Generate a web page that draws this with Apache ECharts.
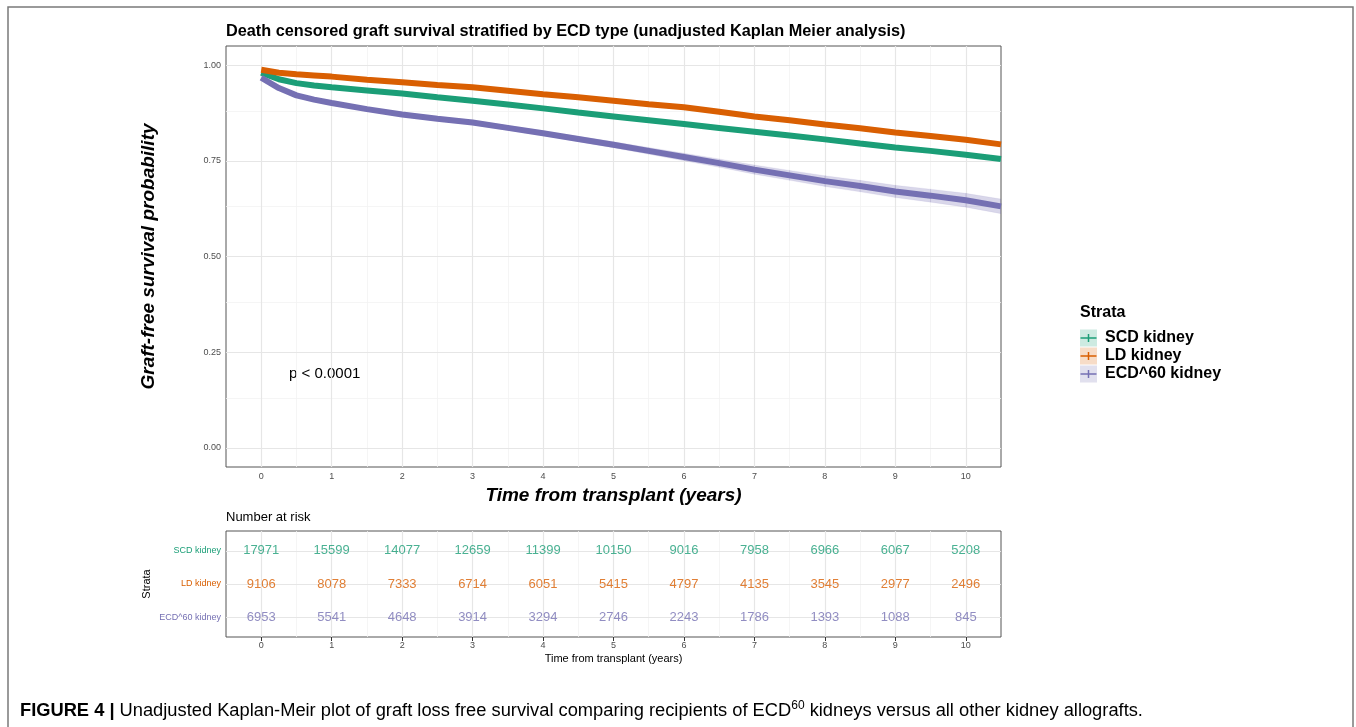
<!DOCTYPE html>
<html>
<head>
<meta charset="utf-8">
<script src="https://cdn.jsdelivr.net/npm/echarts@6/dist/echarts.min.js"></script>
<style>
html,body{margin:0;padding:0;background:#fff;}
#chart{width:1356px;height:727px;}
</style>
</head>
<body>
<div id="chart"></div>
<script>
// ---- data ----
const times = [0, 0.02, 0.25, 0.5, 0.75, 1, 1.5, 2, 2.5, 3, 3.5, 4, 4.5, 5, 5.5, 6, 6.5, 7, 7.5, 8, 8.5, 9, 9.5, 10, 10.5];
const scdSurv = [0.980, 0.975, 0.963, 0.953, 0.947, 0.942, 0.934, 0.926, 0.916, 0.907, 0.897, 0.887, 0.876, 0.866, 0.856, 0.846, 0.836, 0.826, 0.816, 0.806, 0.795, 0.785, 0.776, 0.766, 0.755];
const ldSurv  = [0.988, 0.985, 0.980, 0.976, 0.973, 0.970, 0.962, 0.955, 0.948, 0.942, 0.933, 0.924, 0.916, 0.907, 0.898, 0.890, 0.878, 0.866, 0.856, 0.845, 0.835, 0.824, 0.815, 0.805, 0.793];
const ecdSurv = [0.967, 0.962, 0.940, 0.921, 0.910, 0.901, 0.885, 0.871, 0.860, 0.850, 0.836, 0.822, 0.807, 0.792, 0.776, 0.760, 0.744, 0.727, 0.712, 0.697, 0.684, 0.670, 0.659, 0.647, 0.631];
const ecdLower = [0.963, 0.958, 0.935, 0.916, 0.905, 0.896, 0.880, 0.866, 0.854, 0.844, 0.830, 0.816, 0.800, 0.784, 0.767, 0.750, 0.733, 0.715, 0.699, 0.683, 0.669, 0.654, 0.642, 0.629, 0.612];
const ecdUpper = [0.971, 0.966, 0.945, 0.926, 0.915, 0.906, 0.890, 0.876, 0.866, 0.856, 0.842, 0.828, 0.814, 0.800, 0.785, 0.770, 0.755, 0.739, 0.725, 0.711, 0.699, 0.686, 0.676, 0.665, 0.650];

const strataNames = ['SCD kidney', 'LD kidney', 'ECD^60 kidney'];
const riskTimes = [0, 1, 2, 3, 4, 5, 6, 7, 8, 9, 10];
const riskSCD = [17971, 15599, 14077, 12659, 11399, 10150, 9016, 7958, 6966, 6067, 5208];
const riskLD  = [9106, 8078, 7333, 6714, 6051, 5415, 4797, 4135, 3545, 2977, 2496];
const riskECD = [6953, 5541, 4648, 3914, 3294, 2746, 2243, 1786, 1393, 1088, 845];

const xTicks = [0, 1, 2, 3, 4, 5, 6, 7, 8, 9, 10];
const xMinorGrid = [0.5, 1.5, 2.5, 3.5, 4.5, 5.5, 6.5, 7.5, 8.5, 9.5];
const yTicks = [0, 0.25, 0.5, 0.75, 1];
const yMinorGrid = [0.125, 0.375, 0.625, 0.875];
const riskRows = [3, 2, 1]; // SCD, LD, ECD row positions

// ---- style ----
const FONT = '"Liberation Sans", Arial, Helvetica, sans-serif';
const COLORS = ['#1b9e77', '#d95f02', '#7570b3'];
const TINTS = ['rgba(27,158,119,0.22)', 'rgba(217,95,2,0.22)', 'rgba(117,112,179,0.22)'];

const zip = (xs, ys) => xs.map((x, i) => [x, ys[i]]);

const chart = echarts.init(document.getElementById('chart'), null, {renderer: 'canvas'});

function gridLines(xMajor, xMinor, yMajor, yMinor) {
  const d = [];
  xMinor.forEach(v => d.push({xAxis: v, lineStyle: {color: '#f2f2f2', width: 0.8}}));
  yMinor.forEach(v => d.push({yAxis: v, lineStyle: {color: '#f2f2f2', width: 0.8}}));
  xMajor.forEach(v => d.push({xAxis: v, lineStyle: {color: '#e6e6e6', width: 1.2}}));
  yMajor.forEach(v => d.push({yAxis: v, lineStyle: {color: '#e6e6e6', width: 1.2}}));
  return d;
}
function gridSeries(idx, data) {
  return {
    type: 'line', xAxisIndex: idx, yAxisIndex: idx, data: [], silent: true, z: 1,
    markLine: {silent: true, z: 1, symbol: ['none', 'none'], label: {show: false}, animation: false,
      emphasis: {disabled: true}, lineStyle: {type: 'solid'}, data: data}
  };
}

const axisTickStyle = {show: true, length: 4, lineStyle: {color: '#333', width: 1}};
const tickLabel = {fontSize: 9, color: '#4d4d4d', fontFamily: FONT};

const riskColorMap = {};
strataNames.forEach((n, i) => riskColorMap[riskRows[i]] = i);

const option = {
  animation: false,
  backgroundColor: '#fff',
  textStyle: {fontFamily: FONT},
  title: [
    {text: 'Death censored graft survival stratified by ECD type (unadjusted Kaplan Meier analysis)',
     left: 226, top: 24, padding: 0,
     textStyle: {fontSize: 16.3, fontWeight: 'bold', color: '#000', fontFamily: FONT}},
    {text: 'Number at risk', left: 226, top: 511, padding: 0,
     textStyle: {fontSize: 13, fontWeight: 'normal', color: '#000', fontFamily: FONT}},
    {text: 'Strata', left: 1080, top: 305, padding: 0,
     textStyle: {fontSize: 16, fontWeight: 'bold', color: '#000', fontFamily: FONT}}
  ],
  legend: {
    orient: 'vertical', left: 1080, top: 329.5, padding: 0,
    itemWidth: 17, itemHeight: 17, itemGap: 1,
    textStyle: {fontSize: 16, fontWeight: 'bold', color: '#000', fontFamily: FONT, padding: [0, 0, 0, 3]},
    selectedMode: false,
    data: strataNames.map((n, i) => ({name: n, icon: 'rect', itemStyle: {color: TINTS[i], borderWidth: 0}}))
  },
  grid: [
    {left: 226, top: 46, width: 775, height: 421, show: true, borderColor: '#555', borderWidth: 1, backgroundColor: '#fff'},
    {left: 226, top: 531, width: 775, height: 106, show: true, borderColor: '#555', borderWidth: 1, backgroundColor: '#fff'}
  ],
  xAxis: [
    {gridIndex: 0, type: 'value', min: -0.5, max: 10.5,
     axisLine: {show: false}, splitLine: {show: false},
     axisTick: Object.assign({customValues: xTicks}, axisTickStyle),
     axisLabel: Object.assign({customValues: xTicks, margin: 5, formatter: v => Number.isInteger(v) ? String(v) : ''}, tickLabel),
     name: 'Time from transplant (years)', nameLocation: 'middle', nameGap: 14,
     nameTextStyle: {fontSize: 19, fontWeight: 'bold', fontStyle: 'italic', color: '#000', fontFamily: FONT}},
    {gridIndex: 1, type: 'value', min: -0.5, max: 10.5,
     axisLine: {show: false}, splitLine: {show: false},
     axisTick: Object.assign({customValues: xTicks}, axisTickStyle),
     axisLabel: Object.assign({customValues: xTicks, margin: 4, formatter: v => Number.isInteger(v) ? String(v) : ''}, tickLabel),
     name: 'Time from transplant (years)', nameLocation: 'middle', nameGap: 16,
     nameTextStyle: {fontSize: 11, color: '#000', fontFamily: FONT}}
  ],
  yAxis: [
    {gridIndex: 0, type: 'value', min: -0.05, max: 1.05,
     axisLine: {show: false}, splitLine: {show: false},
     axisTick: Object.assign({customValues: yTicks}, axisTickStyle),
     axisLabel: Object.assign({customValues: yTicks, margin: 5, formatter: v => v.toFixed(2)}, tickLabel),
     name: 'Graft-free survival probability', nameLocation: 'middle', nameGap: 68, nameRotate: 90,
     nameTextStyle: {fontSize: 19, fontWeight: 'bold', fontStyle: 'italic', color: '#000', fontFamily: FONT}},
    {gridIndex: 1, type: 'value', min: 0.4, max: 3.6,
     axisLine: {show: false}, splitLine: {show: false},
     axisTick: Object.assign({customValues: riskRows}, axisTickStyle),
     axisLabel: {customValues: riskRows, margin: 5, fontSize: 9, fontFamily: FONT,
       formatter: v => {const i = riskColorMap[v]; return i === undefined ? '' : '{s' + i + '|' + strataNames[i] + '}';},
       rich: {s0: {color: COLORS[0], fontSize: 9, fontFamily: FONT}, s1: {color: COLORS[1], fontSize: 9, fontFamily: FONT}, s2: {color: COLORS[2], fontSize: 9, fontFamily: FONT}}},
     name: 'Strata', nameLocation: 'middle', nameGap: 74, nameRotate: 90, nameMoveOverlap: false,
     nameTextStyle: {fontSize: 11, color: '#000', fontFamily: FONT}}
  ],
  series: [
    gridSeries(0, gridLines(xTicks, xMinorGrid, yTicks, yMinorGrid)),
    gridSeries(1, gridLines(xTicks, xMinorGrid, riskRows, [])),
    // ECD confidence band (polygon segments between lower and upper bounds)
    {name: 'ecdBand', type: 'custom', xAxisIndex: 0, yAxisIndex: 0, silent: true, z: 2, clip: true,
     data: times.map((t, i) => [t, ecdLower[i], ecdUpper[i]]),
     encode: {x: 0, y: [1, 2]},
     renderItem: function (params, api) {
       const i = params.dataIndex;
       if (i >= times.length - 1) return null;
       const p1 = api.coord([times[i], ecdLower[i]]);
       const p2 = api.coord([times[i + 1], ecdLower[i + 1]]);
       const p3 = api.coord([times[i + 1], ecdUpper[i + 1]]);
       const p4 = api.coord([times[i], ecdUpper[i]]);
       return {type: 'polygon', shape: {points: [p1, p2, p3, p4]},
               style: {fill: 'rgba(117,112,179,0.28)', stroke: 'rgba(117,112,179,0.28)', lineWidth: 0.3}};
     }},
    {name: strataNames[0], type: 'line', xAxisIndex: 0, yAxisIndex: 0, symbol: 'none', z: 4,
     color: COLORS[0], lineStyle: {color: COLORS[0], width: 6}, data: zip(times, scdSurv)},
    {name: strataNames[1], type: 'line', xAxisIndex: 0, yAxisIndex: 0, symbol: 'none', z: 4,
     color: COLORS[1], lineStyle: {color: COLORS[1], width: 6}, data: zip(times, ldSurv)},
    {name: strataNames[2], type: 'line', xAxisIndex: 0, yAxisIndex: 0, symbol: 'none', z: 4,
     color: COLORS[2], lineStyle: {color: COLORS[2], width: 6}, data: zip(times, ecdSurv)},
    // risk table
    ...[riskSCD, riskLD, riskECD].map((arr, i) => ({
      type: 'scatter', xAxisIndex: 1, yAxisIndex: 1, symbolSize: 0, silent: true, z: 4,
      data: riskTimes.map((t, k) => [t, riskRows[i], arr[k]]),
      label: {show: true, position: 'inside', formatter: p => String(p.value[2]),
        color: COLORS[i], fontSize: 13, fontFamily: FONT}
    }))
  ],
  graphic: [
    {type: 'rect', silent: true, shape: {x: 8, y: 7, width: 1345, height: 760},
     style: {fill: 'none', stroke: '#7a7a7a', lineWidth: 1.5}},
    {type: 'text', left: 289, top: 366, silent: true,
     style: {text: 'p < 0.0001', font: '15px ' + FONT, fill: '#000'}},
    ...[0, 1, 2].flatMap(i => {
      const y = 338 + 18 * i;
      return [
        {type: 'line', silent: true, z: 100, shape: {x1: 1080.5, y1: y, x2: 1096.5, y2: y}, style: {stroke: COLORS[i], lineWidth: 1.5}},
        {type: 'line', silent: true, z: 100, shape: {x1: 1088.5, y1: y - 4, x2: 1088.5, y2: y + 4}, style: {stroke: COLORS[i], lineWidth: 1.5}}
      ];
    }),
    {type: 'text', left: 20, top: 700, silent: true,
     style: {
       text: '{b|FIGURE 4 |} Unadjusted Kaplan-Meir plot of graft loss free survival comparing recipients of ECD{sup|60} kidneys versus all other kidney allografts.',
       font: '18.3px ' + FONT, fill: '#000',
       rich: {
         b: {fontWeight: 'bold', fontSize: 18.3, fontFamily: FONT, fill: '#000', lineHeight: 22},
         sup: {fontSize: 12, fontFamily: FONT, fill: '#000', verticalAlign: 'top', lineHeight: 22}
       }
     }}
  ]
};
chart.setOption(option);
</script>
</body>
</html>
